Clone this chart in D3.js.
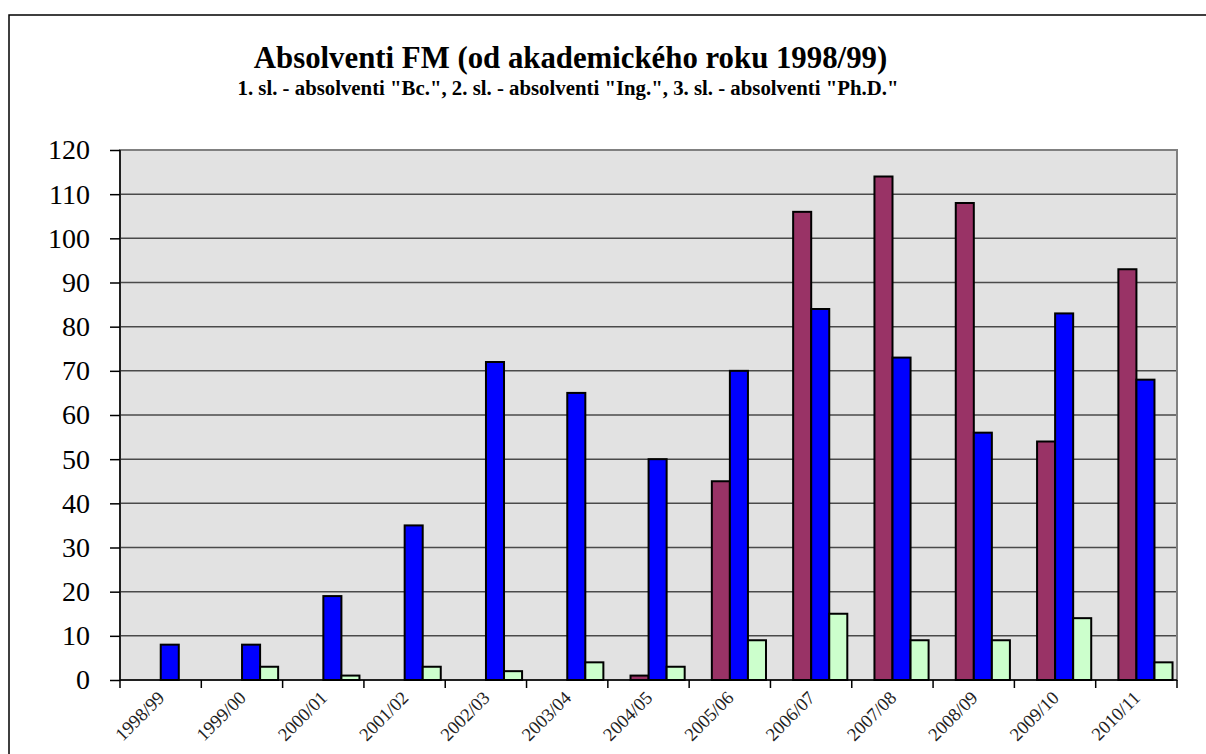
<!DOCTYPE html>
<html>
<head>
<meta charset="utf-8">
<title>Absolventi FM</title>
<script src="https://d3js.org/d3.v7.min.js"></script>
<style>
  body { margin:0; background:#fff; }
</style>
</head>
<body>
<svg id="chart" width="1206" height="754"></svg>
<script>
// academic years
const years = ['1998/99','1999/00','2000/01','2001/02','2002/03','2003/04','2004/05',
               '2005/06','2006/07','2007/08','2008/09','2009/10','2010/11'];
// 1. sl. - Bc.
const bc  = [0, 0, 0, 0, 0, 0, 1, 45, 106, 114, 108, 54, 93];
// 2. sl. - Ing.
const ing = [8, 8, 19, 35, 72, 65, 50, 70, 84, 73, 56, 83, 68];
// 3. sl. - Ph.D.
const phd = [0, 3, 1, 3, 2, 4, 3, 9, 15, 9, 9, 14, 4];
const yTicks = [0,10,20,30,40,50,60,70,80,90,100,110,120];

const FONT = 'Liberation Serif';

const series = [
  {name:'Bc.', values:bc, color:'#993366'},
  {name:'Ing.', values:ing, color:'#0000ff'},
  {name:'Ph.D.', values:phd, color:'#ccffcc'}
];

const svg = d3.select('#chart');
const margin = {top:150, left:120, right:29, bottom:74};
const width = +svg.attr('width'), height = +svg.attr('height');
const innerW = width - margin.left - margin.right;
const innerH = height - margin.top - margin.bottom;

// outer frame
svg.append('rect').attr('x',9).attr('y',15).attr('width',1300).attr('height',900)
  .attr('fill','none').attr('stroke','#000').attr('stroke-width',1.5);

// titles
svg.append('text').attr('x',570.5).attr('y',68).attr('text-anchor','middle')
  .attr('font-family',FONT).attr('font-size',30.8).attr('font-weight','bold')
  .text('Absolventi FM (od akademického roku 1998/99)');
svg.append('text').attr('x',568).attr('y',95).attr('text-anchor','middle')
  .attr('font-family',FONT).attr('font-size',20.8).attr('font-weight','bold')
  .text('1. sl. - absolventi "Bc.", 2. sl. - absolventi "Ing.",  3. sl. - absolventi "Ph.D."');

const g = svg.append('g').attr('transform',`translate(${margin.left},${margin.top})`);

const x = d3.scaleBand().domain(years).range([0, innerW]);
const y = d3.scaleLinear().domain([0,120]).range([innerH, 0]);

// plot area
g.append('rect').attr('width',innerW).attr('height',innerH).attr('fill','#e2e2e2');

// grid
g.append('g').selectAll('line').data(yTicks.slice(1)).join('line')
  .attr('x1',0).attr('x2',innerW).attr('y1',d=>y(d)).attr('y2',d=>y(d))
  .attr('stroke','#4a4a4a').attr('stroke-width',1.5);

g.append('rect').attr('width',innerW).attr('height',innerH)
  .attr('fill','none').attr('stroke','#808080').attr('stroke-width',2);

// bars
const bw = x.bandwidth() * 0.222;
const off = x.bandwidth() * 0.279;
series.forEach((s, si) => {
  g.append('g').selectAll('rect').data(years.map((yr,i)=>({yr, v:s.values[i]})).filter(d=>d.v>0))
    .join('rect')
    .attr('x', d => x(d.yr) + off + si*bw)
    .attr('y', d => y(d.v))
    .attr('width', bw)
    .attr('height', d => y(0) - y(d.v))
    .attr('fill', s.color)
    .attr('stroke','#000').attr('stroke-width',2);
});

// y axis
const yAxis = g.append('g')
  .call(d3.axisLeft(y).tickValues(yTicks).tickSize(10).tickPadding(20).tickFormat(d3.format('d')));
yAxis.attr('font-family',FONT);
yAxis.select('.domain').attr('stroke','#000').attr('stroke-width',1.5).attr('d',`M0,0V${innerH}`);
yAxis.selectAll('.tick line').attr('stroke','#000').attr('stroke-width',1.5);
yAxis.selectAll('text').attr('font-size',28).attr('fill','#000');

// x axis with ticks at category boundaries
const xAxis = g.append('g').attr('transform',`translate(0,${innerH})`);
xAxis.append('line').attr('x1',0).attr('x2',innerW).attr('stroke','#000').attr('stroke-width',1.5);
xAxis.selectAll('.bt').data(d3.range(years.length+1)).join('line')
  .attr('x1',i=>i*x.step()).attr('x2',i=>i*x.step()).attr('y1',0).attr('y2',8)
  .attr('stroke','#000').attr('stroke-width',1.5);
xAxis.selectAll('.lab').data(years).join('text')
  .attr('transform', d => `translate(${x(d)+x.bandwidth()/2+5},${19}) rotate(-45)`)
  .attr('text-anchor','end').attr('font-family',FONT).attr('font-size',18.5)
  .attr('fill','#222').text(d=>d);
</script>
</body>
</html>
